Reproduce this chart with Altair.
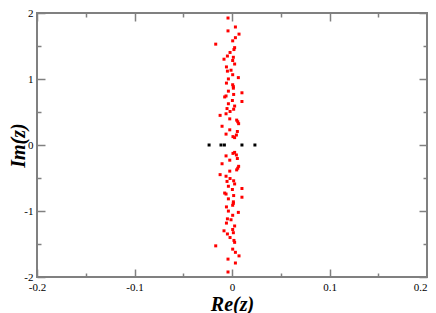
import altair as alt
import pandas as pd

# complex zeros: upper half-plane
re_upper = [-0.0041, 0.0035, -0.0041, 0.0072, 0.0035, 0.0007, -0.0167, 0.0027, 0.0020, -0.0020,
            -0.0047, 0.0014, -0.0082, 0.0007, 0.0027, -0.0057, -0.0010, -0.0047, 0.0007, 0.0065,
            -0.0037, -0.0057, 0.0007, 0.0014, 0.0014, -0.0037, 0.0102, 0.0017, -0.0061, -0.0075,
            0.0004, 0.0102, -0.0037, 0.0027, -0.0051, 0.0017, -0.0020, -0.0061, -0.0122, -0.0023,
            0.0048, 0.0059, 0.0068, -0.0102, -0.0023, 0.0055, 0.0045, -0.0061, 0.0010, 0.0027]
im_upper = [1.924, 1.788, 1.729, 1.680, 1.626, 1.578, 1.528, 1.475, 1.446, 1.402,
            1.348, 1.329, 1.300, 1.280, 1.227, 1.183, 1.133, 1.119, 1.065, 1.021,
            1.001, 0.938, 0.913, 0.884, 0.861, 0.816, 0.791, 0.766, 0.743, 0.728,
            0.674, 0.659, 0.625, 0.590, 0.552, 0.542, 0.508, 0.473, 0.449, 0.396,
            0.377, 0.352, 0.323, 0.284, 0.230, 0.205, 0.151, 0.165, 0.127, 0.112]
# lower half-plane
re_lower = [-0.0041, 0.0035, -0.0041, 0.0072, 0.0035, 0.0007, -0.0167, 0.0027, 0.0020, -0.0020,
            -0.0047, 0.0014, -0.0082, 0.0007, 0.0027, -0.0057, -0.0010, -0.0047, 0.0007, 0.0065,
            -0.0037, -0.0057, 0.0007, 0.0014, 0.0014, -0.0037, 0.0102, 0.0017, -0.0061, -0.0075,
            0.0004, 0.0102, -0.0037, 0.0027, -0.0051, 0.0017, -0.0020, -0.0061, -0.0122, -0.0023,
            0.0048, 0.0059, 0.0068, -0.0102, -0.0023, 0.0055, 0.0045, -0.0061, 0.0010, 0.0027]
im_lower = [-1.924, -1.788, -1.729, -1.680, -1.626, -1.578, -1.528, -1.475, -1.446, -1.402,
            -1.348, -1.329, -1.300, -1.280, -1.227, -1.183, -1.133, -1.119, -1.065, -1.021,
            -1.001, -0.938, -0.913, -0.884, -0.861, -0.816, -0.791, -0.766, -0.743, -0.728,
            -0.674, -0.659, -0.625, -0.590, -0.552, -0.542, -0.508, -0.473, -0.449, -0.396,
            -0.377, -0.352, -0.323, -0.284, -0.230, -0.205, -0.151, -0.165, -0.127, -0.112]
# real zeros
re_real = [-0.0235, -0.0113, -0.0078, 0.0102, 0.0235]
im_real = [0.0, 0.0, 0.0, 0.0, 0.0]

x_major = [-0.2, -0.1, 0.0, 0.1, 0.2]
x_minor = [-0.15, -0.05, 0.05, 0.15]
y_major = [-2, -1, 0, 1, 2]
y_minor = [-1.5, -0.5, 0.5, 1.5]

complex_df = pd.DataFrame({"re": re_upper + re_lower, "im": im_upper + im_lower})
real_df = pd.DataFrame({"re": re_real, "im": im_real})

FONT = "Liberation Serif"
xs = alt.Scale(domain=[-0.2, 0.2], nice=False, zero=False)
ys = alt.Scale(domain=[-2, 2], nice=False, zero=False)

lab = ("datum.value == 0 ? '0' : (datum.value < 0 ? '-' + format(-datum.value, '{f}') "
       ": format(datum.value, '{f}'))")


def tick_axis(orient, values, size, labels=False, title=None, fmt=".1f", tpad=0, extra=None):
    kw = dict(orient=orient, values=values, tickSize=size, offset=-size, domain=False,
              grid=False, tickColor="#808080", tickWidth=1.5, labels=labels)
    if labels:
        kw.update(labelExpr=lab.format(f=fmt), labelFont=FONT, labelFontSize=11,
                  labelColor="black", labelPadding=4, labelFlush=False, labelOverlap=False,
                  labelBound=False)
    if title is not None:
        kw.update(title=title, titleFont=FONT, titleFontSize=20, titleFontWeight="bold",
                  titleFontStyle="italic", titleColor="black", titlePadding=tpad)
    else:
        kw.update(title=None)
    if extra:
        kw.update(extra)
    return alt.Axis(**kw)


last_right = {"labelAlign": {"condition": {"test": "datum.value >= 0.2", "value": "right"},
                             "value": "center"}}

red = alt.Chart(complex_df).mark_square(size=9, color="red", opacity=1).encode(
    x=alt.X("re:Q", scale=xs,
            axis=tick_axis("bottom", x_major, 8, True, "Re(z)", ".1f", 2, last_right)),
    y=alt.Y("im:Q", scale=ys, axis=tick_axis("left", y_major, 8, True, "Im(z)", ".0f", -5)),
)
black = alt.Chart(real_df).mark_square(size=9, color="black", opacity=1).encode(
    x=alt.X("re:Q", scale=xs, axis=tick_axis("bottom", x_minor, 4)),
    y=alt.Y("im:Q", scale=ys, axis=tick_axis("left", y_minor, 4)),
)
top_major = alt.Chart(real_df).mark_square(size=9, opacity=0).encode(
    x=alt.X("re:Q", scale=xs, axis=tick_axis("top", x_major, 8)),
    y=alt.Y("im:Q", scale=ys, axis=tick_axis("right", y_major, 8)),
)
top_minor = alt.Chart(real_df).mark_square(size=9, opacity=0).encode(
    x=alt.X("re:Q", scale=xs, axis=tick_axis("top", x_minor, 4)),
    y=alt.Y("im:Q", scale=ys, axis=tick_axis("right", y_minor, 4)),
)

chart = alt.layer(red, black, top_major, top_minor).resolve_axis(
    x="independent", y="independent"
).properties(
    width=390, height=264,
    autosize=alt.AutoSizeParams(type="none"),
    padding={"left": 29, "top": 5, "right": 1, "bottom": 36},
).configure_view(stroke="#808080", strokeWidth=2)

chart.save("out.html", embed_options={"renderer": "svg", "actions": False})
